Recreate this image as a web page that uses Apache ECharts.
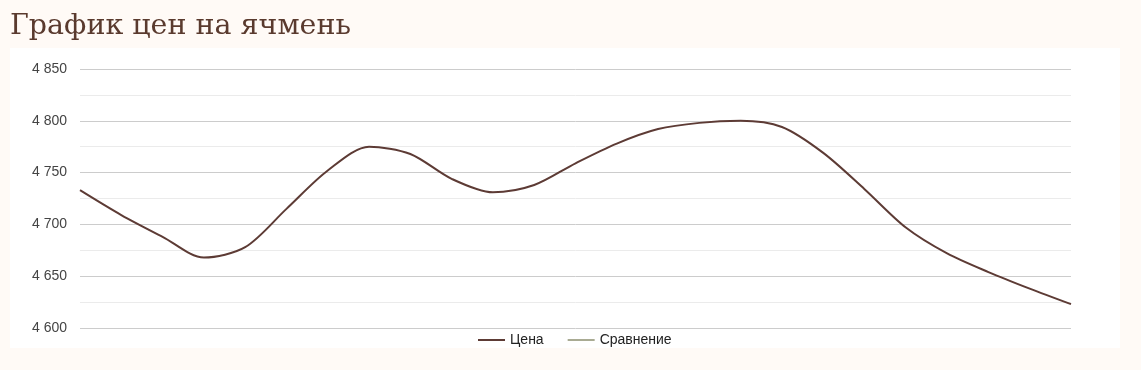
<!DOCTYPE html>
<html><head><meta charset="utf-8">
<script src="https://cdn.jsdelivr.net/npm/echarts@6/dist/echarts.min.js"></script>
<style>html,body{margin:0;padding:0;background:#fffaf6;}#c{width:1141px;height:370px;}</style>
</head><body><div id="c"></div>
<script>
var titleText = 'График цен на ячмень';
var categories = ['1','2','3','4','5','6','7','8','9','10','11','12','13','14','15','16','17','18','19','20','21','22','23','24','25'];
var priceValues = [4733, 4709, 4688, 4668, 4678, 4715, 4752, 4775, 4768, 4744, 4731, 4738, 4759, 4778, 4792, 4798, 4800, 4794, 4769, 4734, 4697, 4672, 4654, 4638, 4623];
var compareValues = [];
var yTicks = [4600, 4650, 4700, 4750, 4800, 4850];

var chart = echarts.init(document.getElementById('c'));
chart.setOption({
  backgroundColor: '#fffaf6',
  animation: false,
  graphic: [
    {type:'rect', shape:{x:10,y:48,width:1110,height:300}, style:{fill:'#ffffff'}, z:-10},
    {type:'text', left:10, top:12, style:{text:titleText, font:'28.5px "DejaVu Serif"', fill:'#5a3a2e'}}
  ],
  legend: {
    bottom: 18, left: 473, itemWidth: 27, itemHeight: 2, itemGap: 24,
    icon: 'rect',
    textStyle: {color:'#222', fontSize:14, fontFamily:'"Liberation Sans", Arial'},
    data: ['Цена','Сравнение']
  },
  grid: {left:80, right:70, top:69, bottom:42},
  xAxis: {type:'category', data:categories, boundaryGap:false,
    axisLine:{show:false}, axisTick:{show:false}, axisLabel:{show:false}},
  yAxis: {type:'value', min:yTicks[0], max:yTicks[yTicks.length-1], interval:50,
    axisLine:{show:false}, axisTick:{show:false},
    axisLabel:{color:'#444', fontSize:14, fontFamily:'"Liberation Sans", Arial', margin:13,
      formatter:function(v){return String(v).replace(/\B(?=(\d{3})+(?!\d))/g,' ');}},
    splitLine:{lineStyle:{color:'#cccccc'}},
    minorTick:{show:false, splitNumber:2},
    minorSplitLine:{show:true, lineStyle:{color:'#ebebeb'}}
  },
  series: [
    {name:'Цена', type:'line', data:priceValues, smooth:0.3, symbol:'none',
      lineStyle:{color:'#5d3b35', width:2}, itemStyle:{color:'#5d3b35'}},
    {name:'Сравнение', type:'line', data:compareValues, symbol:'none',
      lineStyle:{color:'#a9ab93', width:2}, itemStyle:{color:'#a9ab93'}}
  ]
});
</script></body></html>
